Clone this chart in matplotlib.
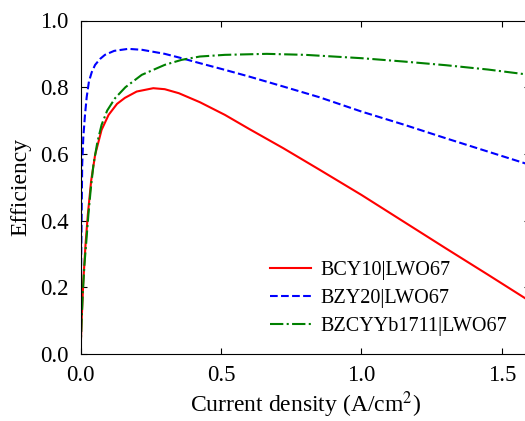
import numpy as np
import matplotlib
matplotlib.use('Agg')
import matplotlib.pyplot as plt

plt.rcParams['font.family'] = ['Liberation Serif', 'DejaVu Serif']
plt.rcParams['mathtext.fontset'] = 'stix'

# current density (A/cm2) and efficiency
bcy_x = [0.0, 0.004, 0.01, 0.018, 0.026, 0.038, 0.052, 0.075, 0.1, 0.13,
         0.158, 0.2, 0.259, 0.3, 0.35, 0.425, 0.514, 0.6, 0.722, 0.85,
         1.0, 1.15, 1.3, 1.45, 1.6]
bcy_y = [0.0, 0.10, 0.218, 0.33, 0.417, 0.52, 0.597, 0.672, 0.717, 0.75,
         0.768, 0.787, 0.797, 0.794, 0.782, 0.755, 0.717, 0.675, 0.617, 0.553,
         0.477, 0.397, 0.317, 0.238, 0.158]

bzy_x = [0.0, 0.002, 0.006, 0.01, 0.016, 0.022, 0.03, 0.04, 0.052, 0.07,
         0.087, 0.12, 0.17, 0.22, 0.3, 0.36, 0.425, 0.514, 0.6, 0.722,
         0.85, 1.0, 1.15, 1.3, 1.45, 1.6]
bzy_y = [0.0, 0.25, 0.567, 0.65, 0.717, 0.77, 0.817, 0.845, 0.867, 0.885,
         0.897, 0.909, 0.915, 0.912, 0.90, 0.887, 0.872, 0.852, 0.832, 0.802,
         0.770, 0.727, 0.688, 0.647, 0.607, 0.567]

bzcyyb_x = [0.0, 0.004, 0.008, 0.014, 0.02, 0.028, 0.036, 0.046, 0.06, 0.075,
            0.095, 0.123, 0.16, 0.218, 0.3, 0.36, 0.425, 0.514, 0.663, 0.8,
            1.0, 1.15, 1.3, 1.45, 1.6]
bzcyyb_y = [0.0, 0.10, 0.18, 0.268, 0.33, 0.417, 0.49, 0.567, 0.635, 0.687,
            0.730, 0.767, 0.800, 0.837, 0.867, 0.882, 0.892, 0.897, 0.900, 0.897,
            0.887, 0.877, 0.866, 0.853, 0.837]

fig = plt.figure(figsize=(5.25, 4.21), dpi=100)
ax = fig.add_axes([80.5 / 525, 67 / 421, 449.5 / 525, 333.5 / 421])

ax.plot(bcy_x, bcy_y, color='red', lw=1.5, label='BCY10|LWO67')
ax.plot(bzy_x, bzy_y, color='blue', lw=1.5, ls='--', label='BZY20|LWO67')
ax.plot(bzcyyb_x, bzcyyb_y, color='green', lw=1.5, ls='-.', label='BZCYYb1711|LWO67')

ax.set_xlim(0, 1.6)
ax.set_ylim(0, 1.0)
ax.set_xticks([0.0, 0.5, 1.0, 1.5])
ax.set_yticks([0.0, 0.2, 0.4, 0.6, 0.8, 1.0])
ax.tick_params(direction='in', top=True, right=True, length=4, width=0.8,
               labelsize=16.5)
ax.tick_params(axis='x', pad=8)
ax.tick_params(axis='y', pad=8.5)
ax.set_xlabel('Current density (A/cm$^2$)', fontsize=17, labelpad=2.5)
ax.set_ylabel('Efficiency', fontsize=17, labelpad=6)

ax.legend(loc='lower right', bbox_to_anchor=(0.99, 0.0), frameon=False,
          fontsize=14.5, handlelength=2.0, handletextpad=0.5, labelspacing=0.45)

fig.savefig('out.png', dpi=100)
